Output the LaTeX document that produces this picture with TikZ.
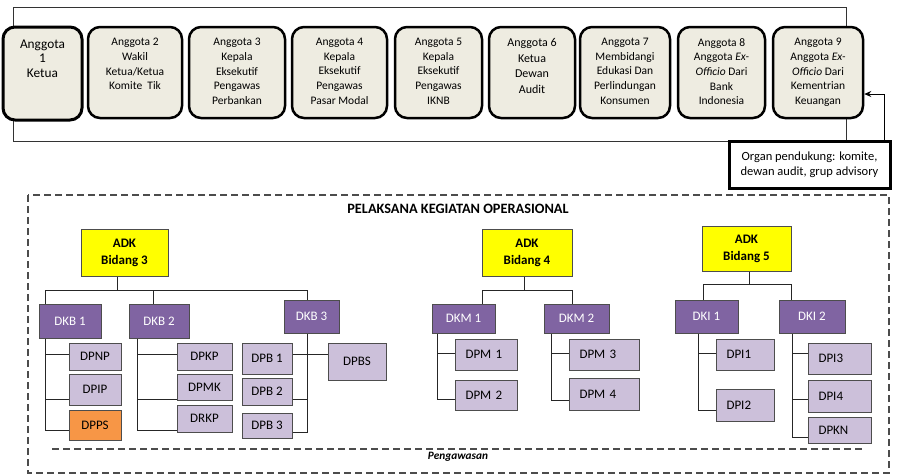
\documentclass[tikz,border=0pt]{standalone}
\usepackage{fontspec}
\setmainfont{Carlito}
\usetikzlibrary{arrows.meta,calc}
\definecolor{tanfill}{HTML}{EEECE1}
\definecolor{dkpurple}{HTML}{8064A2}
\definecolor{lavfill}{HTML}{CCC0DA}
\definecolor{orfill}{HTML}{F79646}
\definecolor{adkyel}{HTML}{FFFF00}
\definecolor{bordgray}{HTML}{4D4D4D}
\tikzset{
  topbox/.style={draw=black, line width=2.5pt, rounded corners=12pt, fill=tanfill, inner sep=0pt},
  toptext/.style={anchor=north, inner sep=0pt, align=center, font=\fontsize{11.5}{14.7}\selectfont},
  adkbox/.style={draw=bordgray, line width=1pt, fill=adkyel, inner sep=0pt, align=center, font=\fontsize{13}{17}\selectfont\bfseries},
  dkbox/.style={draw=bordgray, line width=1pt, fill=dkpurple, text=white, inner sep=0pt, font=\fontsize{13}{15}\selectfont},
  subbox/.style={draw=bordgray, line width=1pt, fill=lavfill, inner sep=0pt, font=\fontsize{13}{15}\selectfont},
  subl/.style={subbox, anchor=west, inner xsep=10pt, align=left},
  conn/.style={draw=black!85, line width=0.9pt},
  dashframe/.style={draw=black!70, line width=1.3pt, dash pattern=on 7pt off 4pt},
}
\begin{document}
\begin{tikzpicture}[x=1pt,y=-1pt]
\useasboundingbox (0,0) rectangle (897,475);
% top frame
\coordinate (ftl) at (13,7);
\coordinate (fbr) at (846,141);
\draw[line width=1pt, black!80] (ftl) rectangle (fbr);
% top boxes
\node[topbox, line width=3pt, minimum width=79pt, minimum height=93pt] (a1) at (42.5,73.5) {};
\node[topbox, minimum width=94pt, minimum height=91pt] (a2) at (135,72.5) {};
\node[topbox, minimum width=96pt, minimum height=91pt] (a3) at (237,72.5) {};
\node[topbox, minimum width=95pt, minimum height=91pt] (a4) at (339.5,72.5) {};
\node[topbox, minimum width=87pt, minimum height=91pt] (a5) at (438.5,72.5) {};
\node[topbox, minimum width=86pt, minimum height=91pt] (a6) at (532,72.5) {};
\node[topbox, minimum width=90pt, minimum height=91pt] (a7) at (625,72.5) {};
\node[topbox, minimum width=87pt, minimum height=91pt] (a8) at (721.5,72.5) {};
\node[topbox, minimum width=90pt, minimum height=91pt] (a9) at (818,72.5) {};
\node[toptext, font=\fontsize{13.3}{14.5}\selectfont] (a1t) at (42.5,39.5) {Anggota\\1\\Ketua};
\node[toptext] (a2t) at (135,38) {Anggota 2\\Wakil\\Ketua/Ketua\\Komite\ \ Tik};
\node[toptext] (a3t) at (237,38) {Anggota 3\\Kepala\\Eksekutif\\Pengawas\\Perbankan};
\node[toptext] (a4t) at (339.5,38) {Anggota 4\\Kepala\\Eksekutif\\Pengawas\\Pasar Modal};
\node[toptext] (a5t) at (438.5,38) {Anggota 5\\Kepala\\Eksekutif\\Pengawas\\IKNB};
\node[toptext, font=\fontsize{12}{15.5}\selectfont] (a6t) at (532,38.5) {Anggota 6\\Ketua\\Dewan\\Audit};
\node[toptext] (a7t) at (625,38) {Anggota 7\\Membidangi\\Edukasi Dan\\Perlindungan\\Konsumen};
\node[toptext] (a8t) at (721.5,38) {Anggota 8\\Anggota \textit{Ex-}\\\textit{Officio} Dari\\Bank\\Indonesia};
\node[toptext] (a9t) at (818,38) {Anggota 9\\Anggota \textit{Ex-}\\\textit{Officio} Dari\\Kementrian\\Keuangan};
% organ box
\node[draw=black, line width=3pt, fill=white, minimum width=161pt, minimum height=47pt, inner sep=0pt, align=center, font=\fontsize{12.5}{15}\selectfont] (organ) at (809.5,164.5) {Organ pendukung: komite,\\dewan audit, grup advisory};
\coordinate (ar) at (884,94);
\draw[line width=1pt, -{Stealth[length=7pt,width=6pt]}] (ar |- organ.north) -- (ar) -- (ar -| a9.east);
% lower frame
\draw[dashframe] (28,195) rectangle (889,473);
\coordinate (pwl) at (52,449);
\coordinate (pwr) at (863,449);
\draw[dashframe] (pwl) -- (pwr);
\node[font=\fontsize{11.3}{13}\selectfont\bfseries\itshape] (peng) at (458,457) {Pengawasan};
\node[font=\fontsize{14.3}{16}\selectfont\bfseries] (title) at (458,208.5) {PELAKSANA KEGIATAN OPERASIONAL};
% ADK boxes
\node[adkbox, minimum width=87pt, minimum height=47pt] (adk3) at (124.5,252.5) {ADK\\Bidang 3};
\node[adkbox, minimum width=90pt, minimum height=47pt] (adk4) at (527,252.5) {ADK\\Bidang 4};
\node[adkbox, minimum width=89pt, minimum height=45pt] (adk5) at (746.5,248.5) {ADK\\Bidang 5};
% DK boxes
\node[dkbox, minimum width=62pt, minimum height=34pt] (dkb1) at (70,321) {DKB 1};
\node[dkbox, minimum width=60pt, minimum height=34pt] (dkb2) at (159,321) {DKB 2};
\node[dkbox, minimum width=55pt, minimum height=33pt] (dkb3) at (311.5,316.5) {DKB 3};
\node[dkbox, minimum width=63pt, minimum height=29pt] (dkm1) at (463.5,318.5) {DKM 1};
\node[dkbox, minimum width=65pt, minimum height=29pt] (dkm2) at (576.5,318.5) {DKM 2};
\node[dkbox, minimum width=63pt, minimum height=33pt] (dki1) at (706.5,316.5) {DKI 1};
\node[dkbox, minimum width=66pt, minimum height=33pt] (dki2) at (812,316.5) {DKI 2};
% sub boxes bidang 3
\node[subbox, minimum width=52pt, minimum height=27pt] (dpnp) at (95,356.5) {DPNP};
\node[subbox, minimum width=52pt, minimum height=31pt] (dpip) at (95,389.5) {DPIP};
\node[subbox, fill=orfill, minimum width=52pt, minimum height=30pt] (dpps) at (95,425) {DPPS};
\node[subbox, minimum width=55pt, minimum height=27pt] (dpkp) at (204.5,356.5) {DPKP};
\node[subbox, minimum width=55pt, minimum height=26pt] (dpmk) at (204.5,387) {DPMK};
\node[subbox, minimum width=55pt, minimum height=27pt] (drkp) at (204.5,418.5) {DRKP};
\node[subbox, minimum width=50pt, minimum height=31pt] (dpb1) at (267,358.5) {DPB 1};
\node[subbox, minimum width=50pt, minimum height=27pt] (dpb2) at (267,391.5) {DPB 2};
\node[subbox, minimum width=50pt, minimum height=25pt] (dpb3) at (267,425.5) {DPB 3};
\node[subbox, minimum width=58pt, minimum height=37pt] (dpbs) at (357,361.5) {DPBS};
% sub boxes bidang 4/5 (left aligned text)
\node[subl, text width=42pt, minimum height=31pt] (dpm1) at (455,354.5) {DPM 1};
\node[subl, text width=42pt, minimum height=30pt] (dpm2) at (455,395) {DPM 2};
\node[subl, text width=50pt, minimum height=31pt] (dpm3) at (569,354.5) {DPM 3};
\node[subl, text width=50pt, minimum height=32pt] (dpm4) at (569,394) {DPM 4};
\node[subl, text width=38pt, minimum height=31pt] (dpi1) at (716,354.5) {DPI1};
\node[subl, text width=38pt, minimum height=32pt] (dpi2) at (716,405) {DPI2};
\node[subl, text width=43pt, minimum height=31pt] (dpi3) at (808,358.5) {DPI3};
\node[subl, text width=43pt, minimum height=32pt] (dpi4) at (808,396) {DPI4};
\node[subl, text width=43pt, minimum height=26pt] (dpkn) at (808,430) {DPKN};
% connectors bidang 3
\coordinate (b3) at (117,290);
\coordinate (b3l) at (45,290);
\coordinate (b3m) at (153,290);
\coordinate (b3r) at (307,290);
\draw[conn] (b3 |- adk3.south) -- (b3);
\draw[conn] (b3l) -- (b3r);
\draw[conn] (b3l) -- (b3l |- dkb1.north);
\draw[conn] (b3m) -- (b3m |- dkb2.north);
\draw[conn] (b3r) -- (b3r |- dkb3.north);
\coordinate (t1a) at (45,354);
\coordinate (t1b) at (45,399);
\coordinate (t1c) at (45,430);
\draw[conn] (t1c |- dkb1.south) -- (t1c) -- (t1c -| dpps.west);
\draw[conn] (t1a) -- (t1a -| dpnp.west);
\draw[conn] (t1b) -- (t1b -| dpip.west);
\coordinate (t2a) at (137,354);
\coordinate (t2b) at (137,399);
\coordinate (t2c) at (137,430);
\draw[conn] (t2c |- dkb2.south) -- (t2c) -- (t2c -| drkp.west);
\draw[conn] (t2a) -- (t2a -| dpkp.west);
\draw[conn] (t2b) -- (t2b -| dpmk.west);
\coordinate (t3a) at (307,354);
\coordinate (t3b) at (307,399);
\coordinate (t3c) at (307,432);
\draw[conn] (t3c |- dkb3.south) -- (t3c) -- (t3c -| dpb3.east);
\draw[conn] (t3a -| dpb1.east) -- (t3a -| dpbs.west);
\draw[conn] (t3b) -- (t3b -| dpb2.east);
% connectors bidang 4
\coordinate (b4) at (524,290);
\coordinate (b4l) at (482,290);
\coordinate (b4r) at (572,290);
\draw[conn] (b4 |- adk4.south) -- (b4);
\draw[conn] (b4l |- dkm1.north) -- (b4l) -- (b4r) -- (b4r |- dkm2.north);
\coordinate (t4a) at (437,353);
\coordinate (t4b) at (437,399);
\draw[conn] (t4b |- dkm1.south) -- (t4b) -- (t4b -| dpm2.west);
\draw[conn] (t4a) -- (t4a -| dpm1.west);
\coordinate (t5a) at (551,353);
\coordinate (t5b) at (551,400);
\draw[conn] (t5b |- dkm2.south) -- (t5b) -- (t5b -| dpm4.west);
\draw[conn] (t5a) -- (t5a -| dpm3.west);
% connectors bidang 5
\coordinate (b5) at (749,284);
\coordinate (b5l) at (703,284);
\coordinate (b5r) at (791,284);
\draw[conn] (b5 |- adk5.south) -- (b5);
\draw[conn] (b5l |- dki1.north) -- (b5l) -- (b5r) -- (b5r |- dki2.north);
\coordinate (t6a) at (698,353);
\coordinate (t6b) at (698,410);
\draw[conn] (t6b |- dki1.south) -- (t6b) -- (t6b -| dpi2.west);
\draw[conn] (t6a) -- (t6a -| dpi1.west);
\coordinate (t7a) at (792,353);
\coordinate (t7b) at (792,399);
\coordinate (t7c) at (792,437);
\draw[conn] (t7c |- dki2.south) -- (t7c) -- (t7c -| dpkn.west);
\draw[conn] (t7a) -- (t7a -| dpi3.west);
\draw[conn] (t7b) -- (t7b -| dpi4.west);
\end{tikzpicture}
\end{document}
